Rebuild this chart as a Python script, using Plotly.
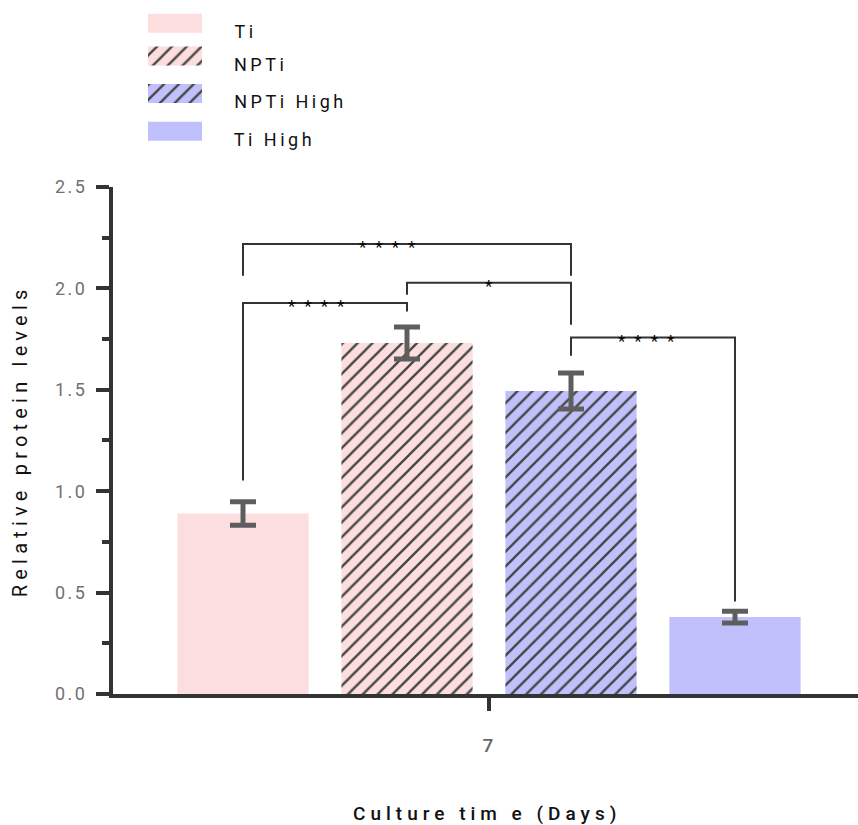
import json
import plotly.graph_objects as go

# ---------------- data ----------------
categories = ["Ti", "NPTi", "NPTi High", "Ti High"]
means = [0.890, 1.730, 1.494, 0.380]
errors = [0.058, 0.079, 0.089, 0.029]
x_tick_label = "7"
y_ticks = [0.0, 0.5, 1.0, 1.5, 2.0, 2.5]

# significance brackets: (bar_a, bar_b, level, leg_end_a, leg_end_b, label, star_xshift)
brackets = [
    (0, 2, 2.218, 2.061, 2.061, "****", -15),
    (1, 2, 2.027, 1.968, 1.820, "*", 0),
    (0, 1, 1.927, 1.053, 1.885, "****", -4),
    (2, 3, 1.757, 1.667, 0.457, "****", -2),
]

# ---------------- style ----------------
PINK = "#FDDEDE"
BLUE = "#C0C0FC"
colors = [PINK, PINK, BLUE, BLUE]
shapes_pat = ["", "/", "/", ""]
HATCH = "#5a5a5a"
AX = "#333333"
FONT = "Roboto"
W, H = 858, 825

# vertical placement helper (paper fraction for a target pixel row)
TOP_OFF, EFF_H = 10.0, 805.0


def fy(px):
    return 1 - (px - TOP_OFF) / EFF_H


def fx(px):
    return px / W


positions = list(range(len(categories)))

# plot-area placement (pixels)
px_left, px_right, px_top, px_bottom = 113, 858, 186, 694

LS_LEGEND = 3.5
LS_STARS = 9

fig = go.Figure()

pattern = dict(shape=shapes_pat, fgcolor=HATCH, fgopacity=1, size=10.5,
               solidity=0.22, fillmode="overlay")

fig.add_trace(go.Bar(
    x=positions, y=means, width=0.8,
    marker=dict(color=colors, line=dict(width=0), pattern=pattern),
    error_y=dict(type="data", array=errors, visible=True, color="#5e5e5e",
                 thickness=5, width=13),
    showlegend=False, hoverinfo="skip",
))

# legend swatches drawn in a small auxiliary axis
legend_slots = [22.3, 55.0, 92.5, 130.5]
fig.add_trace(go.Bar(
    x=[1] * len(categories), y=legend_slots, base=0, orientation="h", width=19,
    marker=dict(color=colors, line=dict(width=0), pattern=pattern),
    xaxis="x2", yaxis="y2", showlegend=False, hoverinfo="skip",
))

annotations = []
for name, slot in zip(categories, legend_slots):
    annotations.append(dict(
        text=name, xref="paper", yref="y2", x=fx(232), y=slot, yshift=-8.5,
        xshift=len(name) * LS_LEGEND / 2,
        xanchor="left", yanchor="middle", showarrow=False,
        font=dict(family=FONT, size=18, color="#111111"),
    ))

shapes = []
for a, b, lvl, ea, eb, lab, xs in brackets:
    xa, xb = positions[a], positions[b]
    shapes.append(dict(
        type="path", xref="x", yref="y",
        path=f"M {xa},{ea} L {xa},{lvl} L {xb},{lvl} L {xb},{eb}",
        line=dict(color=AX, width=2),
    ))
    annotations.append(dict(
        text=lab, xref="x", yref="y", x=(xa + xb) / 2, y=lvl, xshift=xs, yshift=-3,
        xanchor="center", yanchor="middle", showarrow=False,
        font=dict(family=FONT, size=17, color="#000000"),
    ))

# axis titles
annotations.append(dict(
    text="Relative protein levels", xref="paper", yref="paper",
    x=fx(20), y=fy(441), textangle=-90, showarrow=False,
    xanchor="center", yanchor="middle",
    font=dict(family=FONT, size=20, color="#111111"),
))
annotations.append(dict(
    text="Culture tim e (Days)", xref="paper", yref="paper",
    x=fx(487), y=fy(813), showarrow=False,
    xanchor="center", yanchor="middle",
    font=dict(family=FONT, size=19, color="#111111", weight=500),
))

# x range so that bar centres land where they do in the reference
unit = 164.0
x0c = 243.0
xr = [-(x0c - px_left) / unit, (px_right - x0c) / unit]

fig.update_layout(
    width=W, height=H, autosize=False,
    margin=dict(l=0, r=0, t=0, b=0),
    paper_bgcolor="white", plot_bgcolor="white",
    shapes=shapes, annotations=annotations,
    xaxis=dict(
        domain=[fx(px_left), fx(px_right)], range=xr,
        tickvals=[(positions[0] + positions[-1]) / 2], ticktext=[x_tick_label],
        ticks="outside", ticklen=13, tickwidth=4, tickcolor=AX,
        showline=True, linewidth=4, linecolor=AX,
        showgrid=False, zeroline=False, ticklabelstandoff=18,
        tickfont=dict(family=FONT, size=19, color="#666666", weight=500),
    ),
    yaxis=dict(
        domain=[fy(px_bottom), fy(px_top)], range=[0, 2.5],
        tickvals=y_ticks, tickformat=".1f",
        ticks="outside", ticklen=13, tickwidth=4, tickcolor=AX,
        minor=dict(dtick=0.25, ticks="outside", ticklen=7, tickwidth=4, tickcolor=AX),
        showline=True, linewidth=4, linecolor=AX,
        showgrid=False, zeroline=False, ticklabelstandoff=5,
        tickfont=dict(family=FONT, size=18, color="#707070"),
    ),
    xaxis2=dict(domain=[fx(148), fx(202)], range=[0, 1], visible=False,
                anchor="y2"),
    yaxis2=dict(domain=[fy(150), fy(TOP_OFF)], range=[150, TOP_OFF], visible=False,
                anchor="x2"),
)

spacing = {
    "Relative protein levels": 5.2,
    "Culture tim e (Days)": 5,
    "****": LS_STARS,
    "*": 0,
    "Ti": LS_LEGEND, "NPTi": LS_LEGEND, "NPTi High": LS_LEGEND, "Ti High": LS_LEGEND,
}
post = """
var sp = %s;
document.querySelectorAll('.annotation-text').forEach(function(t){
  var k = t.textContent; if (sp[k] !== undefined) t.style.letterSpacing = sp[k] + 'px';
});
document.querySelectorAll('.ytick text').forEach(function(t){ t.style.letterSpacing='2.5px'; });
document.querySelectorAll('.xtick text').forEach(function(t){ t.style.letterSpacing='2px'; });
""" % json.dumps(spacing)

fig.write_html("out.html", post_script=post)
